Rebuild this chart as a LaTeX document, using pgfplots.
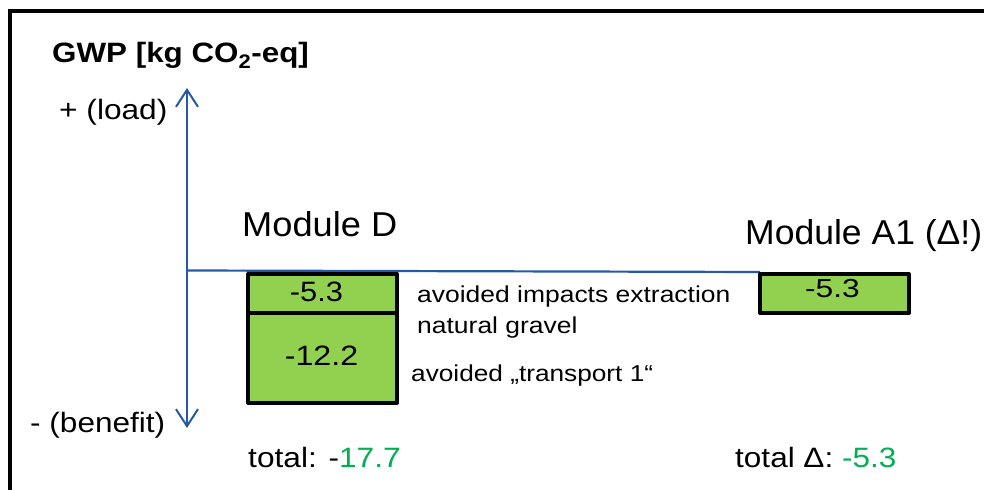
\documentclass[border=0pt]{standalone}
\usepackage{pgfplots}
\pgfplotsset{compat=1.18}
\usepackage{fontspec}
\setmainfont{Liberation Sans}
\usetikzlibrary{arrows.meta}
\definecolor{boxgreen}{RGB}{146,208,80}
\definecolor{numgreen}{RGB}{0,176,80}
\definecolor{axblue}{RGB}{38,88,165}
\newcommand{\fs}[1]{\fontsize{#1bp}{#1bp}\selectfont}
\begin{document}
\begin{tikzpicture}
\useasboundingbox (0,0) rectangle (984bp,490bp);
\fill[white] (0,0) rectangle (984bp,490bp);
\begin{scope}[x=1bp,y=-1bp,shift={(0,490bp)}]
  \draw[black, line width=4bp] (10,520) -- (10,11) -- (1010,11);
  \draw[axblue, line width=2bp, {Straight Barb[length=17bp,width=22bp]}-{Straight Barb[length=17bp,width=22bp]}] (187,88) -- (187,428);
  \draw[axblue, line width=2.2bp] (187,270.5) -- (760,272);
\end{scope}
\begin{axis}[at={(0,0)}, anchor=south west, scale only axis,
  width=984bp, height=490bp, xmin=0, xmax=984, ymin=-29.408, ymax=37.304,
  hide axis, clip=false, ybar stacked, bar width=149]
\addplot[fill=boxgreen, draw=black, line width=4bp, line join=round] coordinates {(322.5,-5.3) (834.5,-5.3)};
\addplot[fill=boxgreen, draw=black, line width=4bp, line join=round] coordinates {(322.5,-12.2)};
\end{axis}
\begin{scope}[x=1bp,y=-1bp,shift={(0,490bp)}]
  \node[anchor=base west, inner sep=0pt, xscale=1.12, font=\fs{28}\bfseries] at (52,63) {GWP [kg CO\textsubscript{2}-eq]};
  \node[anchor=base west, inner sep=0pt, xscale=1.13, font=\fs{28}] at (59,120) {+ (load)};
  \node[anchor=base west, inner sep=0pt, xscale=1.127, font=\fs{28}] at (30,433) {- (benefit)};
  \node[anchor=base west, inner sep=0pt, xscale=1.05, font=\fs{34.5}] at (242,237) {Module D};
  \node[anchor=base west, inner sep=0pt, xscale=1.03, font=\fs{34.5}] at (745,245) {Module A1 (Δ!)};
  \node[anchor=base west, inner sep=0pt, xscale=1.15, font=\fs{23}] at (417,303) {avoided impacts extraction};
  \node[anchor=base west, inner sep=0pt, xscale=1.15, font=\fs{23}] at (417,333.5) {natural gravel};
  \node[anchor=base west, inner sep=0pt, xscale=1.14, font=\fs{23}] at (411,382) {avoided „transport 1“};
  \node[anchor=base, inner sep=0pt, xscale=1.1, font=\fs{28}] at (316.5,302) {-5.3};
  \node[anchor=base, inner sep=0pt, xscale=1.15, font=\fs{28}] at (321.5,366) {-12.2};
  \node[anchor=base, inner sep=0pt, xscale=1.22, font=\fs{26}] at (832.5,298) {-5.3};
  \node[anchor=base west, inner sep=0pt, xscale=1.13, font=\fs{28}] at (248,468) {total: -\textcolor{numgreen}{17.7}};
  \node[anchor=base west, inner sep=0pt, xscale=1.125, font=\fs{28}] at (735,468) {total Δ: \textcolor{numgreen}{-5.3}};
\end{scope}
\end{tikzpicture}
\end{document}
